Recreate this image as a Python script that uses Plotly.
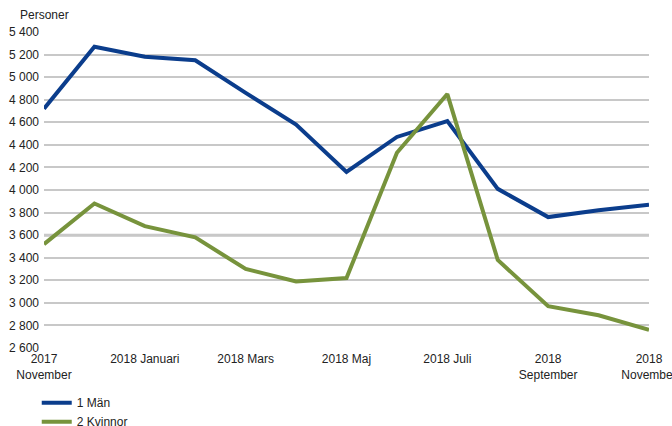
import plotly.graph_objects as go

months = ["2017 November", "2017 December", "2018 Januari", "2018 Februari", "2018 Mars",
          "2018 April", "2018 Maj", "2018 Juni", "2018 Juli", "2018 Augusti",
          "2018 September", "2018 Oktober", "2018 November"]
man = [4720, 5270, 5180, 5150, 4860, 4580, 4160, 4470, 4610, 4010, 3760, 3820, 3870]
kvinnor = [3520, 3880, 3680, 3580, 3300, 3190, 3220, 4330, 4850, 3380, 2970, 2890, 2760]
tick_idx = [0, 2, 4, 6, 8, 10, 12]
tick_text = ["2017<br>November", "2018 Januari", "2018 Mars", "2018 Maj", "2018 Juli",
             "2018<br>September", "2018<br>November"]
y_ticks = list(range(2600, 5401, 200))

x = list(range(len(months)))

fig = go.Figure()
fig.add_trace(go.Scatter(x=x, y=man, mode="lines", name="1 Män",
                         line=dict(color="#0b3d8c", width=4),
                         text=months, hovertemplate="%{text}: %{y}<extra></extra>"))
fig.add_trace(go.Scatter(x=x, y=kvinnor, mode="lines", name="2 Kvinnor",
                         line=dict(color="#77933c", width=4),
                         text=months, hovertemplate="%{text}: %{y}<extra></extra>"))

fig.add_shape(type="line", xref="paper", x0=0, x1=1, yref="y", y0=3600, y1=3600,
              line=dict(color="#c4c4c4", width=3), layer="below")

fig.update_layout(
    width=672, height=426,
    margin=dict(l=44, r=23, t=32, b=78, autoexpand=False),
    paper_bgcolor="white", plot_bgcolor="white",
    separators=", ",
    font=dict(family="Liberation Sans, Arial, sans-serif", size=12, color="#222222"),
    showlegend=True,
    legend=dict(x=-0.012, y=-0.127, xanchor="left", yanchor="top",
                orientation="v", font=dict(size=12), tracegroupgap=0,
                itemwidth=30, bgcolor="rgba(0,0,0,0)"),
    xaxis=dict(range=[0, 12], tickmode="array", tickvals=tick_idx, ticktext=tick_text,
               showgrid=False, zeroline=False, showline=False, ticks="",
               tickangle=0, tickfont=dict(size=12), automargin=False,
               ticklabeloverflow="allow", ticklabelstandoff=2),
    yaxis=dict(range=[2600, 5400], tickmode="array", tickvals=y_ticks,
               tickformat=",d", showgrid=True, gridcolor="#c8c8c8", gridwidth=1.5,
               zeroline=False, showline=False, ticks="", ticklabelstandoff=4,
               tickfont=dict(size=12), automargin=False),
    annotations=[dict(text="Personer", xref="paper", yref="paper", x=-0.043, y=1.0,
                      xanchor="left", yanchor="bottom", yshift=8, showarrow=False,
                      font=dict(size=12))],
)

fig.write_html("out.html", config={"displayModeBar": False},
               post_script="document.body.style.margin='0';")
